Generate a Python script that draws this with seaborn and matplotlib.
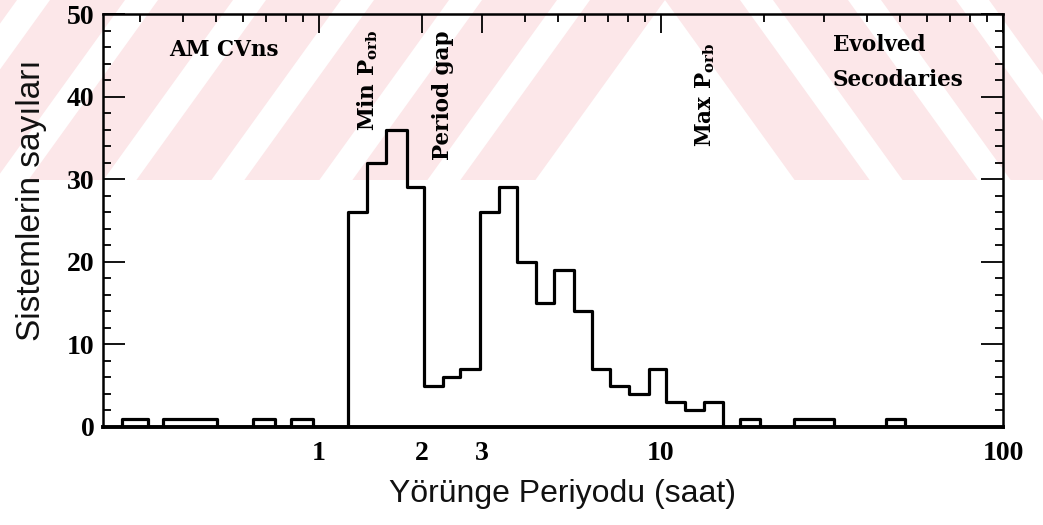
import numpy as np
import pandas as pd
import matplotlib
matplotlib.use("Agg")
import matplotlib.pyplot as plt
import seaborn as sns
from matplotlib.patches import Polygon
from matplotlib.transforms import Bbox, TransformedBbox
from matplotlib.ticker import FixedLocator, FixedFormatter, MultipleLocator, LogLocator, NullFormatter

# ---------------- data ----------------
bin_edges = [0.2655, 0.3162, 0.3499, 0.5030, 0.6412, 0.7434, 0.8283, 0.9604,
             1.216, 1.382, 1.570, 1.808, 2.028, 2.305, 2.585, 2.956, 3.360,
             3.793, 4.310, 4.866, 5.567, 6.284, 7.094, 8.061, 9.224, 10.34,
             11.75, 13.36, 15.18, 17.02, 19.48, 24.48, 32.05, 45.50, 51.70]
counts = [1, 0, 1, 0, 1, 0, 1, 0,
          26, 32, 36, 29, 5, 6, 7, 26, 29, 20, 15, 19, 14, 7, 5, 4, 7, 3, 2, 3,
          0, 1, 0, 1, 0, 1]

x_tick_values = [1, 2, 3, 10, 100]
x_tick_labels = ["1", "2", "3", "10", "100"]
y_tick_values = [0, 10, 20, 30, 40, 50]
y_tick_labels = ["0", "10", "20", "30", "40", "50"]

region_texts = ["AM CVns", "Min P$_{\\rm orb}$", "Period gap", "Max P$_{\\rm orb}$",
                "Evolved\nSecodaries"]
region_x = [0.527, 1.39, 2.30, 13.45, 31.8]
region_y = [45.6, 42.0, 40.2, 40.2, 44.1]
region_rot = [0, 90, 90, 90, 0]

x_label = "Yörünge Periyodu (saat)"
y_label = "Sistemlerin sayıları"

# ---------------- style ----------------
sns.set_theme(style="white")
plt.rcParams["font.family"] = ["Liberation Sans", "DejaVu Sans"]
plt.rcParams["mathtext.fontset"] = "custom"
plt.rcParams["mathtext.rm"] = "DejaVu Serif:bold"
plt.rcParams["mathtext.it"] = "DejaVu Serif:bold"
plt.rcParams["mathtext.bf"] = "DejaVu Serif:bold"

W, H = 1043, 525
fig = plt.figure(figsize=(W / 100, H / 100), dpi=100)
fig.patch.set_facecolor("white")

# ---------------- background watermark (pink chevron stripes) ----------------
pink = "#fce7e9"
band_h = 180
slope = 0.72
stripe_w = 75
period = 108
apex = 665


def fpx(x, y):
    return (x / W, 1 - y / H)


left_clip = TransformedBbox(Bbox([[0, 1 - band_h / H], [apex / W, 1]]), fig.transFigure)
right_clip = TransformedBbox(Bbox([[apex / W, 1 - band_h / H], [1, 1]]), fig.transFigure)
for k in range(0, 12):
    c = apex - stripe_w - k * period
    pts = [(c, 0), (c + stripe_w, 0), (c + stripe_w - slope * band_h, band_h), (c - slope * band_h, band_h)]
    p1 = Polygon([fpx(x, y) for x, y in pts], closed=True, transform=fig.transFigure,
                 facecolor=pink, edgecolor="none", zorder=-5)
    fig.add_artist(p1)
    p1.set_clip_box(left_clip)
    pts2 = [(2 * apex - x, y) for x, y in pts]
    p2 = Polygon([fpx(x, y) for x, y in pts2], closed=True, transform=fig.transFigure,
                 facecolor=pink, edgecolor="none", zorder=-5)
    fig.add_artist(p2)
    p2.set_clip_box(right_clip)

# ---------------- axes ----------------
ax = fig.add_axes([103 / W, 1 - 427 / H, 900 / W, 413 / H])
ax.patch.set_alpha(0)
ax.set_xscale("log")

x_step = [bin_edges[0]] + bin_edges
y_step = [0] + counts + [0]
df = pd.DataFrame({"period": x_step, "count": y_step})
sns.lineplot(data=df, x="period", y="count", drawstyle="steps-post", estimator=None,
             sort=False, color="black", linewidth=2.3, ax=ax)

ax.set_xlim(0.2335, 100)
ax.set_ylim(0, 50)

# ticks
ax.xaxis.set_major_locator(FixedLocator(x_tick_values))
ax.xaxis.set_major_formatter(FixedFormatter(x_tick_labels))
ax.xaxis.set_minor_locator(LogLocator(base=10, subs=np.arange(2, 10)))
ax.xaxis.set_minor_formatter(NullFormatter())
ax.yaxis.set_major_locator(FixedLocator(y_tick_values))
ax.yaxis.set_major_formatter(FixedFormatter(y_tick_labels))
ax.yaxis.set_minor_locator(MultipleLocator(2))

ax.tick_params(axis="y", which="both", direction="in", left=True, right=True,
               color="black", width=1.3, labelsize=20, labelcolor="black")
ax.tick_params(axis="y", which="major", length=16, pad=6)
ax.tick_params(axis="y", which="minor", length=6)
ax.tick_params(axis="x", which="both", direction="in", top=True, bottom=False,
               color="black", width=1.3, labelsize=20, labelcolor="black")
ax.tick_params(axis="x", which="major", length=14, pad=10)
ax.tick_params(axis="x", which="minor", length=6)

for lab in ax.get_xticklabels() + ax.get_yticklabels():
    lab.set_fontfamily(["Liberation Serif", "DejaVu Serif"])
    lab.set_fontweight("bold")

for side, sp in ax.spines.items():
    sp.set_visible(True)
    sp.set_color("black")
    sp.set_linewidth(1.8)
ax.spines["bottom"].set_linewidth(2.8)

ax.set_xlabel(x_label, fontsize=23, color="#111111")
ax.set_ylabel(y_label, fontsize=24, color="#111111")
ax.xaxis.set_label_coords(0.511, -0.125)
ax.yaxis.set_label_coords(-0.062, 0.55)

for t, xx, yy, r in zip(region_texts, region_x, region_y, region_rot):
    ax.text(xx, yy, t, rotation=r, ha="left" if t.startswith("Evolved") else "center",
            va="center", fontsize=15.5, fontweight="bold", family="DejaVu Serif",
            color="black", linespacing=1.75)

ax.grid(False)
fig.savefig("out.png", dpi=100, facecolor="white")
